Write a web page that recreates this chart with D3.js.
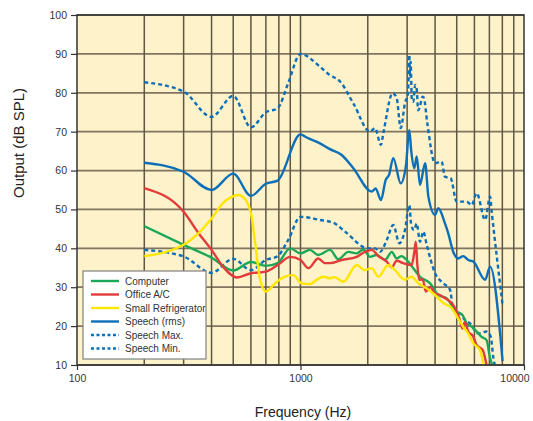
<!DOCTYPE html>
<html>
<head>
<meta charset="utf-8">
<script src="https://cdn.jsdelivr.net/npm/d3@7"></script>
<style>
body{margin:0;background:#fff;}
text{font-family:"Liberation Sans",Arial,sans-serif;}
</style>
</head>
<body>
<div id="chart"></div>
<script>
// data: [Hz, dB SPL]
var computer=[[200,45.7],[300,40.9],[400,37.6],[500,34.3],[600,36.5],[700,35.5],[790,36.2],[900,40],[1000,38.7],[1100,39.6],[1200,38.3],[1355,39.6],[1477,37.2],[1637,39.1],[1784,38.7],[1910,39.7],[2046,37.8],[2190,38.3],[2390,37],[2560,39.1],[2694,37.4],[2830,38],[2990,37],[3196,34.9],[3425,32.7],[3800,31],[4140,28],[4500,27.2],[4750,25.4],[4990,23.7],[5300,22.9],[5540,20.7],[5830,19.9],[6140,18.6],[6440,17.3],[6800,16.4],[7030,12.1],[7200,10]];
var officeAC=[[200,55.5],[300,49.4],[350,43.9],[400,39.6],[450,35.3],[520,32.5],[600,33.6],[700,34],[790,35.7],[900,37.8],[1000,37],[1085,34.9],[1200,37.4],[1286,36.2],[1355,36.2],[1529,37],[1784,37.8],[1942,39.1],[2082,39.6],[2230,38],[2430,36.6],[2560,35.1],[2694,36.8],[2880,36.2],[3140,35.7],[3230,39],[3280,41.7],[3330,36],[3400,31.9],[3520,32],[3640,28.9],[3800,30.1],[4000,28.4],[4200,28],[4430,27.2],[4670,26.3],[4920,24.6],[5160,21.6],[5300,19.4],[5440,21.1],[5630,18.6],[5930,17.3],[6140,15.1],[6530,13.9],[6800,10]];
var fridge=[[200,38],[300,40.9],[350,43.9],[400,47.7],[450,51.6],[530,53.7],[560,52.9],[600,49],[630,40.4],[660,31.9],[700,28.9],[770,31],[850,32.7],[930,33.1],[1010,31],[1100,30.8],[1180,31.9],[1265,32.7],[1355,32.3],[1420,32.6],[1555,31.4],[1784,35.7],[1942,34.4],[2082,34.9],[2230,32.7],[2470,35.7],[2645,34.4],[2933,31.9],[3140,32.7],[3370,31],[3670,29.7],[4000,28],[4360,25.9],[4750,24.6],[5020,22.4],[5340,19.9],[5630,18.1],[5930,15.6],[6350,13.9],[6600,10]];
var speechRms=[[200,62],[300,59.7],[400,55],[500,59.2],[600,53.5],[700,56.6],[790,57.4],[1000,69.3],[1066,68.5],[1222,67],[1355,65.5],[1529,64],[1723,60.6],[2082,54.6],[2170,55.4],[2290,52.4],[2406,57.6],[2490,58.9],[2600,63.2],[2808,56.7],[2965,61.4],[3068,70.4],[3130,65],[3229,60.6],[3311,63.6],[3425,56.3],[3610,61.9],[3734,53.3],[4000,48.6],[4136,50.3],[4430,46.4],[4580,43.9],[4830,39],[5080,37.4],[5340,38],[5630,37],[5930,36.6],[6700,31.9],[7050,35.3],[8020,11]];
var speechMax=[[200,82.7],[300,80.3],[400,73.8],[500,79.2],[600,71.1],[700,75],[790,76],[880,82.4],[1000,90],[1222,86.7],[1348,84.6],[1503,82.9],[1723,77.3],[2046,70],[2155,70.9],[2290,66.6],[2347,69.6],[2584,79.9],[2694,78.6],[2808,70.9],[2933,77.3],[3030,80],[3068,89.8],[3090,84],[3110,88],[3150,78],[3196,77.7],[3260,82],[3311,81],[3360,75.5],[3403,76],[3520,79],[3570,78.6],[3694,72.1],[4000,61.9],[4280,62.3],[4430,58.4],[4700,58],[4995,52],[5540,52],[5830,51.1],[6140,54.2],[6700,47.3],[7050,53.3],[7170,49.4],[8020,25.4]];
var speechMin=[[200,39.6],[300,37.9],[400,33.7],[500,37.3],[600,34.4],[700,37],[790,38],[880,42.1],[1000,48.1],[1222,47.3],[1402,46.6],[1581,44.3],[2010,40],[2155,40],[2270,39.1],[2430,42.1],[2600,46],[2770,41.3],[2933,44.7],[3068,51.1],[3130,46],[3220,44.7],[3311,46.4],[3425,41.7],[3545,44.3],[3670,40.9],[4000,33.6],[4360,31],[4670,29.3],[4830,24.1],[5160,23.3],[5440,21.6],[5730,20.7],[6240,18.1],[6800,18.6],[7100,17.3],[7300,11.7],[7400,10]];

var xTicks=[100,1000,10000];
var yTicks=[10,20,30,40,50,60,70,80,90,100];
var xGrid=[200,300,400,500,600,700,800,900,1000,2000,3000,4000,5000,6000,7000,8000,9000];

var series=[
  {name:"Speech Max.",data:speechMax,color:"#0d6fb8",dash:"4,3"},
  {name:"Speech Min.",data:speechMin,color:"#0d6fb8",dash:"4,3"},
  {name:"Speech (rms)",data:speechRms,color:"#0d6fb8",dash:null},
  {name:"Computer",data:computer,color:"#1aa858",dash:null},
  {name:"Office A/C",data:officeAC,color:"#e23b3b",dash:null},
  {name:"Small Refrigerator",data:fridge,color:"#ffe600",dash:null}
];
var legendOrder=["Computer","Office A/C","Small Refrigerator","Speech (rms)","Speech Max.","Speech Min."];

var width=533,height=421,
    pLeft=77,pRight=524,pTop=15,pBottom=365;

var svg=d3.select("#chart").append("svg")
    .attr("width",width).attr("height",height);

var x=d3.scaleLog().domain([100,10000]).range([pLeft,pRight]);
var y=d3.scaleLinear().domain([10,100]).range([pBottom,pTop]);

svg.append("rect")
    .attr("x",pLeft).attr("y",pTop)
    .attr("width",pRight-pLeft).attr("height",pBottom-pTop)
    .attr("fill","#fdf2c9");

svg.append("clipPath").attr("id","clip")
  .append("rect").attr("x",pLeft).attr("y",pTop)
    .attr("width",pRight-pLeft).attr("height",pBottom-pTop);

// grid
svg.append("g").selectAll("line").data(yTicks).enter().append("line")
    .attr("x1",pLeft).attr("x2",pRight)
    .attr("y1",function(d){return y(d);}).attr("y2",function(d){return y(d);})
    .attr("stroke","#7f7560").attr("stroke-width",1.8);
svg.append("g").selectAll("line").data(xGrid).enter().append("line")
    .attr("x1",function(d){return x(d);}).attr("x2",function(d){return x(d);})
    .attr("y1",pTop).attr("y2",pBottom)
    .attr("stroke","#5f5644").attr("stroke-width",1.5);

// axes
var yAxis=svg.append("g")
    .attr("transform","translate("+pLeft+",0)")
    .call(d3.axisLeft(y).tickValues(yTicks).tickSize(6).tickPadding(4).tickFormat(d3.format("d")));
var xAxis=svg.append("g")
    .attr("transform","translate(0,"+pBottom+")")
    .call(d3.axisBottom(x).tickValues(xTicks).tickSize(5).tickPadding(5).tickFormat(d3.format("d")));
[yAxis,xAxis].forEach(function(a){
  a.select(".domain").remove();
  a.selectAll(".tick line").attr("stroke","#333").attr("stroke-width",1.2);
  a.selectAll("text").attr("fill","#333").style("font-size","10.5px")
    .style("font-family","'Liberation Sans',Arial,sans-serif");
});
// keep the last label inside the picture
xAxis.selectAll(".tick").filter(function(d){return d==10000;})
  .select("text").attr("text-anchor","end").attr("x",5);

// lines
var line=d3.line()
    .x(function(d){return x(d[0]);})
    .y(function(d){return y(d[1]);})
    .curve(d3.curveMonotoneX);

svg.append("g").attr("clip-path","url(#clip)")
  .selectAll("path").data(series).enter().append("path")
    .attr("d",function(d){return line(d.data);})
    .attr("fill","none")
    .attr("stroke",function(d){return d.color;})
    .attr("stroke-width",2.4)
    .attr("stroke-dasharray",function(d){return d.dash;})
    .attr("stroke-linejoin","round");

// frame
svg.append("rect")
    .attr("x",pLeft).attr("y",pTop)
    .attr("width",pRight-pLeft).attr("height",pBottom-pTop)
    .attr("fill","none").attr("stroke","#333").attr("stroke-width",1.5);

// legend
var lg=svg.append("g").attr("transform","translate(83,271)");
lg.append("rect").attr("width",123).attr("height",88)
    .attr("fill","#fff").attr("stroke","#8a8a8a").attr("stroke-width",1.3);
var item=lg.selectAll("g.item").data(legendOrder.map(function(n){
    return series.filter(function(s){return s.name==n;})[0];}))
  .enter().append("g").attr("class","item")
    .attr("transform",function(d,i){return "translate(0,"+(10+i*13.5)+")";});
item.append("line").attr("x1",8).attr("x2",36)
    .attr("stroke",function(d){return d.color;})
    .attr("stroke-width",2.4)
    .attr("stroke-dasharray",function(d){return d.dash?"3,2.5":null;});
item.append("text").attr("x",42).attr("dy","0.35em")
    .attr("fill","#333").style("font-size","10px")
    .text(function(d){return d.name;});

// titles
svg.append("text")
    .attr("transform","translate(19,143)rotate(-90)")
    .attr("text-anchor","middle")
    .attr("dy","0.35em")
    .attr("fill","#222").style("font-size","15px")
    .text("Output (dB SPL)");
svg.append("text")
    .attr("x",303).attr("y",417)
    .attr("text-anchor","middle")
    .attr("fill","#222").style("font-size","14px")
    .text("Frequency (Hz)");
</script>
</body>
</html>
